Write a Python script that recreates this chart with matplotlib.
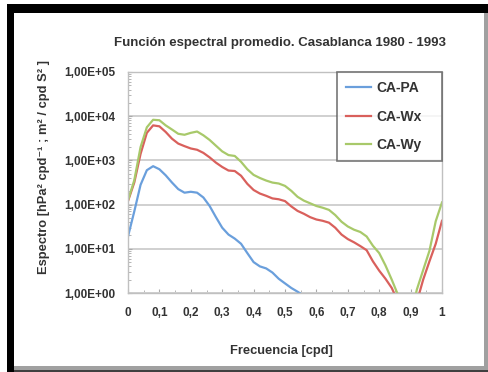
import matplotlib
matplotlib.use("Agg")
import matplotlib.pyplot as plt
import numpy as np
from matplotlib.patches import Rectangle
from matplotlib.ticker import FixedLocator, FuncFormatter, LogLocator, NullFormatter

plt.rcParams["font.family"] = ["Liberation Sans", "DejaVu Sans"]

freq = np.round(np.arange(0, 1.0001, 0.02), 2)

ca_wy = [125, 355, 2000, 5600, 8300, 8100, 6200, 5000, 4000, 3800,
         4200, 4500, 3700, 2900, 2150, 1600, 1320, 1260, 930, 630,
         470, 400, 350, 315, 300, 265, 205, 150, 123, 107,
         93, 85, 76, 58, 41, 32, 27, 24, 19, 11.7,
         8, 4.2, 2.0, 0.9, 0.25, 0.3, 1.2, 3.3, 9, 42, 112]

ca_wx = [120, 316, 1400, 4200, 6200, 5900, 4400, 3100, 2400, 2100,
         1860, 1740, 1480, 1170, 890, 710, 590, 575, 450, 295,
         214, 178, 158, 138, 132, 120, 91, 72, 62, 52,
         46, 43, 39, 30, 21, 16.6, 14, 11.5, 9.3, 5.2,
         3.2, 2.1, 1.3, 0.63, 0.2, 0.2, 0.63, 2.0, 5.2, 13, 43]

ca_pa = [19, 70, 280, 600, 740, 630, 460, 316, 224, 186,
         195, 186, 145, 93, 52, 30, 21, 17, 13, 8,
         5, 4, 3.6, 2.9, 2.1, 1.65, 1.3, 1.07, 0.87] + [np.nan] * 22

series = [("CA-PA", ca_pa, "#6a9fdc"),
          ("CA-Wx", ca_wx, "#d9605c"),
          ("CA-Wy", ca_wy, "#a8c96a")]

yticks = [1, 10, 100, 1000, 10000, 100000]
xticks = [0, 0.1, 0.2, 0.3, 0.4, 0.5, 0.6, 0.7, 0.8, 0.9, 1.0]

fig = plt.figure(figsize=(4.89, 3.72), dpi=100)
ax = fig.add_axes([128 / 489, 1 - 293 / 372, 314 / 489, 221 / 372])

for name, vals, col in series:
    ax.plot(freq, vals, color=col, lw=1.6, label=name)

ax.set_yscale("log")
ax.set_ylim(1, 1e5)
ax.set_xlim(0, 1)
ax.yaxis.set_major_locator(FixedLocator(yticks))
ax.yaxis.set_major_formatter(FuncFormatter(
    lambda v, p: "1,00E+%02d" % int(round(np.log10(v)))))
ax.yaxis.set_minor_locator(LogLocator(base=10, subs=np.arange(2, 10)))
ax.yaxis.set_minor_formatter(NullFormatter())
ax.xaxis.set_major_locator(FixedLocator(xticks))
ax.xaxis.set_major_formatter(FuncFormatter(
    lambda v, p: ("%g" % round(v, 1)).replace(".", ",")))
ax.xaxis.set_minor_locator(FixedLocator(np.arange(0.05, 1, 0.1)))

ax.tick_params(axis="both", which="both", direction="in", color="#aaaaaa",
               labelsize=8.5, labelcolor="#333333")
ax.tick_params(axis="x", which="major", length=3, pad=10)
ax.tick_params(axis="y", which="major", length=3, pad=9)
ax.tick_params(axis="both", which="minor", length=2)
for lab in ax.get_xticklabels() + ax.get_yticklabels():
    lab.set_fontweight("bold")

ax.grid(axis="y", which="major", color="#d0d0d0", lw=1.4)
ax.set_axisbelow(True)
for sp in ax.spines.values():
    sp.set_color("#c0c0c0")
    sp.set_linewidth(1.0)

ax.set_xlabel("Frecuencia [cpd]", fontsize=9.3, fontweight="bold",
              color="#333333")
ax.xaxis.set_label_coords(0.49, -0.235)
ax.set_ylabel("Espectro [hPa² cpd⁻¹ ; m² / cpd S² ]", fontsize=9.3,
              fontweight="bold", color="#333333")
ax.yaxis.set_label_coords(-0.25, 0.57)

fig.text(0.573, 0.884, "Función espectral promedio. Casablanca 1980 - 1993",
         ha="center", va="center", fontsize=9.5, fontweight="bold", color="#333333")

leg = ax.legend(loc="upper right", bbox_to_anchor=(0.666, 0.5, 0.334, 0.5),
                mode="expand", fontsize=10, frameon=True, fancybox=False,
                handlelength=1.8, labelspacing=1.05, borderpad=0.65,
                handletextpad=0.35, borderaxespad=0)
leg.get_frame().set_edgecolor("#555555")
leg.get_frame().set_linewidth(1.2)
for t in leg.get_texts():
    t.set_fontweight("bold")
    t.set_color("#333333")

# shadowed frame around the whole picture
W, H = 489, 372
frame = [((7, 0), 7, H - 4, "black"),
         ((7, H - 13), W - 7, 9, "black"),
         ((484, 0), 5, H - 13, "#a0a0a0"),
         ((14, 2), W - 14, 4, "#a0a0a0"),
         ((14, 0), W - 14, 2, "#404040")]
for (x0, y0), w, h, c in frame:
    fig.add_artist(Rectangle((x0 / W, y0 / H), w / W, h / H,
                             transform=fig.transFigure, facecolor=c,
                             edgecolor="none", zorder=5))

fig.savefig("out.png", dpi=100)
